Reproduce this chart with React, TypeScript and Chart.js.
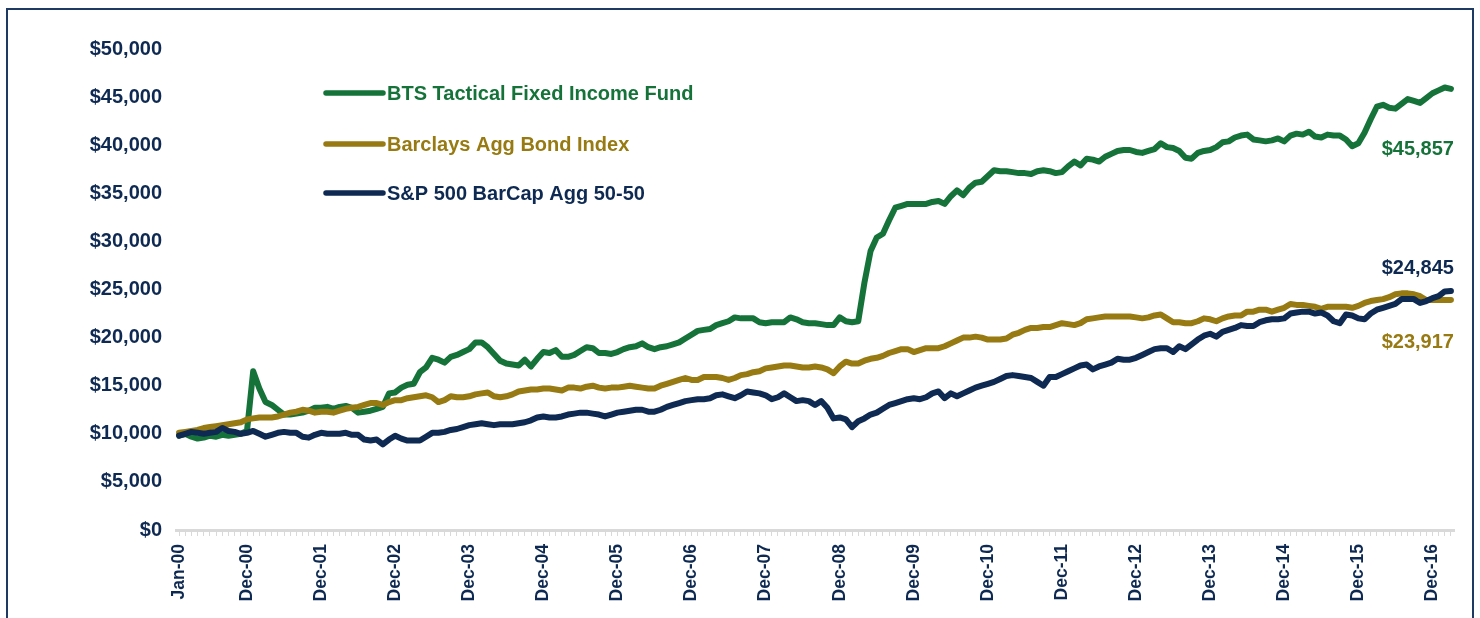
import React, { useEffect, useRef } from 'react';
import { Chart, registerables } from 'chart.js';

Chart.register(...registerables);

const MONTHS = ['Jan', 'Feb', 'Mar', 'Apr', 'May', 'Jun', 'Jul', 'Aug', 'Sep', 'Oct', 'Nov', 'Dec'];
const YEARS = ['00', '01', '02', '03', '04', '05', '06', '07', '08', '09', '10', '11', '12', '13', '14', '15', '16', '17'];
const LAST_MONTH_2017 = 3; // data runs through Mar-17

const LABELS: string[] = [];
YEARS.forEach((y, yi) => {
  MONTHS.forEach((m, mi) => {
    if (yi === YEARS.length - 1 && mi >= LAST_MONTH_2017) return;
    LABELS.push(`${m}-${y}`);
  });
});

const SERIES_NAMES = ['BTS Tactical Fixed Income Fund', 'Barclays Agg Bond Index', 'S&P 500 BarCap Agg 50-50'];
const COLORS = ['#15733a', '#977a11', '#0e2a52'];
const END_LABELS = ['$45,857', '$23,917', '$24,845'];

const BTS = [
  9800, 10000, 9700, 9500, 9600, 9800, 9700, 9900, 9800, 9900, 10000, 10300,
  16500, 14700, 13300, 13000, 12500, 12000, 12000, 12100, 12200, 12400, 12700, 12700,
  12800, 12600, 12800, 12900, 12700, 12200, 12300, 12400, 12600, 12800, 14200, 14300,
  14800, 15100, 15200, 16400, 16900, 17900, 17700, 17400, 18000, 18200, 18500, 18800,
  19500, 19500, 19000, 18300, 17600, 17300, 17200, 17100, 17700, 17000, 17800, 18500,
  18400, 18700, 18000, 18000, 18200, 18600, 19000, 18900, 18400, 18400, 18300, 18500,
  18800, 19000, 19100, 19400, 19000, 18800, 19000, 19100, 19300, 19500, 19900, 20300,
  20700, 20800, 20900, 21300, 21500, 21700, 22100, 22000, 22000, 22000, 21600, 21500,
  21600, 21600, 21600, 22100, 21900, 21600, 21500, 21500, 21400, 21300, 21300, 22100,
  21700, 21600, 21700, 25700, 29000, 30400, 30800, 32200, 33500, 33700, 33900, 33900,
  33900, 33900, 34100, 34200, 33900, 34700, 35300, 34800, 35600, 36100, 36200, 36800,
  37400, 37300, 37300, 37200, 37100, 37100, 37000, 37300, 37400, 37300, 37100, 37200,
  37800, 38300, 37900, 38600, 38500, 38300, 38800, 39100, 39400, 39500, 39500, 39300,
  39200, 39400, 39600, 40200, 39800, 39700, 39400, 38700, 38600, 39200, 39400, 39500,
  39800, 40300, 40400, 40800, 41000, 41100, 40600, 40500, 40400, 40500, 40700, 40400,
  41000, 41200, 41100, 41400, 40900, 40800, 41100, 41000, 41000, 40600, 39900, 40200,
  41300, 42700, 44000, 44200, 43900, 43800, 44300, 44800, 44600, 44400, 44900, 45400,
  45700, 46000, 45857,
];

const BARCLAYS = [
  10100, 10200, 10300, 10400, 10600, 10700, 10800, 10900, 11000, 11100, 11200, 11500,
  11600, 11700, 11700, 11700, 11800, 12000, 12200, 12300, 12500, 12400, 12200, 12300,
  12300, 12200, 12400, 12600, 12700, 12800, 13000, 13200, 13200, 13000, 13300, 13500,
  13500, 13700, 13800, 13900, 14000, 13800, 13300, 13500, 13900, 13800, 13800, 13900,
  14100, 14200, 14300, 13900, 13800, 13900, 14100, 14400, 14500, 14600, 14600, 14700,
  14700, 14600, 14500, 14800, 14800, 14700, 14900, 15000, 14800, 14700, 14800, 14800,
  14900, 15000, 14900, 14800, 14700, 14700, 15000, 15200, 15400, 15600, 15800, 15600,
  15600, 15900, 15900, 15900, 15800, 15600, 15800, 16100, 16200, 16400, 16500, 16800,
  16900, 17000, 17100, 17100, 17000, 16900, 16900, 17000, 16900, 16700, 16300, 17000,
  17500, 17300, 17300, 17600, 17800, 17900, 18100, 18400, 18600, 18800, 18800, 18500,
  18700, 18900, 18900, 18900, 19100, 19400, 19700, 20000, 20000, 20100, 20000, 19800,
  19800, 19800, 19900, 20300, 20500, 20800, 21000, 21000, 21100, 21100, 21300, 21500,
  21400, 21300, 21500, 21900, 22000, 22100, 22200, 22200, 22200, 22200, 22200, 22100,
  22000, 22100, 22300, 22400, 22000, 21600, 21600, 21500, 21500, 21700, 22000, 21900,
  21700, 22000, 22200, 22300, 22300, 22700, 22700, 22900, 22900, 22700, 22900, 23100,
  23500, 23400, 23400, 23300, 23200, 23000, 23200, 23200, 23200, 23200, 23100, 23300,
  23600, 23800, 23900, 24000, 24200, 24500, 24600, 24600, 24500, 24300, 23900, 23900,
  23900, 23900, 23917,
];

const SP_AGG = [
  9800, 10000, 10200, 10100, 10000, 10100, 10200, 10600, 10300, 10200, 10000, 10100,
  10300, 10000, 9700, 9900, 10100, 10200, 10100, 10100, 9700, 9600, 9900, 10100,
  10000, 10000, 10000, 10100, 9900, 9900, 9400, 9300, 9400, 8900, 9400, 9800,
  9500, 9300, 9300, 9300, 9700, 10100, 10100, 10200, 10400, 10500, 10700, 10900,
  11000, 11100, 11000, 10900, 11000, 11000, 11000, 11100, 11200, 11400, 11700, 11800,
  11700, 11700, 11800, 12000, 12100, 12200, 12200, 12100, 12000, 11800, 12000, 12200,
  12300, 12400, 12500, 12500, 12300, 12300, 12500, 12800, 13000, 13200, 13400, 13500,
  13600, 13600, 13700, 14000, 14100, 13900, 13700, 14000, 14400, 14300, 14200, 14000,
  13600, 13800, 14200, 13800, 13400, 13500, 13400, 13000, 13400, 12700, 11600, 11700,
  11500, 10700, 11300, 11600, 12000, 12200, 12600, 13000, 13200, 13400, 13600, 13700,
  13600, 13800, 14200, 14400, 13700, 14200, 13900, 14200, 14500, 14800, 15000, 15200,
  15400, 15700, 16000, 16100, 16000, 15900, 15800, 15400, 15000, 15900, 15900, 16200,
  16500, 16800, 17100, 17200, 16700, 17000, 17200, 17400, 17800, 17700, 17700, 17900,
  18200, 18500, 18800, 18900, 18900, 18500, 19100, 18800, 19300, 19800, 20200, 20400,
  20100, 20600, 20800, 21000, 21300, 21200, 21200, 21600, 21800, 21900, 21900, 22000,
  22500, 22600, 22700, 22700, 22500, 22600, 22300, 21700, 21500, 22400, 22300, 22000,
  21900, 22500, 22900, 23100, 23300, 23500, 24000, 24000, 24000, 23600, 23800, 24100,
  24300, 24800, 24845,
];

const Y_TICK_STEP = 5000;
const Y_MAX = 50000;

const FONT = '"Liberation Sans", Arial, sans-serif';
const TEXT_NAVY = '#0e2a52';

const fmt = (v: number) => '$' + Math.round(v).toLocaleString('en-US');

const overlayPlugin = {
  id: 'overlay',
  afterDatasetsDraw(chart: any) {
    const { ctx, chartArea } = chart;
    ctx.save();
    // legend
    const lx0 = chartArea.left + 150;
    const lx1 = chartArea.left + 207;
    const ys = [chartArea.top + 44, chartArea.top + 95, chartArea.top + 144];
    SERIES_NAMES.forEach((name, i) => {
      ctx.strokeStyle = COLORS[i];
      ctx.lineWidth = 5.5;
      ctx.lineCap = 'round';
      ctx.beginPath();
      ctx.moveTo(lx0, ys[i]);
      ctx.lineTo(lx1, ys[i]);
      ctx.stroke();
      ctx.fillStyle = COLORS[i];
      ctx.font = `bold 20px ${FONT}`;
      ctx.textBaseline = 'middle';
      ctx.textAlign = 'left';
      ctx.fillText(name, lx1 + 4, ys[i] + 1);
    });
    // end labels
    const offsets = [61, 43, -23];
    chart.data.datasets.forEach((_ds: any, i: number) => {
      const meta = chart.getDatasetMeta(i);
      const pt = meta.data[meta.data.length - 1];
      if (!pt) return;
      ctx.fillStyle = COLORS[i];
      ctx.font = `bold 20px ${FONT}`;
      ctx.textAlign = 'right';
      ctx.textBaseline = 'middle';
      ctx.fillText(END_LABELS[i], pt.x + 3, pt.y + offsets[i]);
    });
    ctx.restore();
  },
};

export default function App() {
  const ref = useRef<HTMLCanvasElement | null>(null);

  useEffect(() => {
    if (!ref.current) return;
    const chart = new Chart(ref.current, {
      type: 'line',
      data: {
        labels: LABELS,
        datasets: [
          { label: SERIES_NAMES[0], data: BTS, borderColor: COLORS[0], order: 3 },
          { label: SERIES_NAMES[1], data: BARCLAYS, borderColor: COLORS[1], order: 2 },
          { label: SERIES_NAMES[2], data: SP_AGG, borderColor: COLORS[2], order: 1 },
        ].map((d) => ({
          ...d,
          borderWidth: 6,
          pointRadius: 0,
          fill: false,
          tension: 0,
          borderJoinStyle: 'round' as const,
          borderCapStyle: 'round' as const,
        })),
      },
      options: {
        animation: false,
        responsive: false,
        layout: { padding: { top: 49, right: 23, left: 0, bottom: 0 } },
        plugins: { legend: { display: false }, tooltip: { enabled: false } },
        scales: {
          x: {
            type: 'category',
            offset: true,
            afterFit: (s: any) => {
              s.height = 88;
            },
            grid: {
              display: true,
              drawOnChartArea: false,
              drawTicks: true,
              tickLength: 6,
              color: '#d9d9d9',
              lineWidth: 1,
              offset: false,
            },
            border: { display: true, color: '#d9d9d9', width: 3 },
            ticks: {
              autoSkip: false,
              maxRotation: 90,
              minRotation: 90,
              padding: 8,
              color: TEXT_NAVY,
              font: { family: FONT, weight: 'bold', size: 17.5 },
              callback: (_v: any, i: number) => {
                const l = LABELS[i];
                return i === 0 || l.startsWith('Dec') ? l : '';
              },
            },
          },
          y: {
            min: 0,
            max: Y_MAX,
            afterFit: (s: any) => {
              s.width = 176;
            },
            grid: { display: false, drawTicks: false },
            border: { display: false },
            ticks: {
              stepSize: Y_TICK_STEP,
              padding: 14,
              color: TEXT_NAVY,
              font: { family: FONT, weight: 'bold', size: 20 },
              callback: (v: any) => fmt(Number(v)),
            },
          },
        },
      },
      plugins: [overlayPlugin],
    });
    return () => chart.destroy();
  }, []);

  return (
    <div>
      <canvas
        ref={ref}
        width={1480}
        height={618}
        style={{ position: 'absolute', left: 0, top: 0, width: 1480, height: 618, display: 'block' }}
      />
      <div
        style={{
          position: 'absolute',
          left: 6,
          top: 8,
          width: 1468,
          height: 610,
          boxSizing: 'border-box',
          borderTop: '2px solid #1f3a62',
          borderLeft: '2px solid #1f3a62',
          borderRight: '2px solid #1f3a62',
          pointerEvents: 'none',
        }}
      />
    </div>
  );
}
